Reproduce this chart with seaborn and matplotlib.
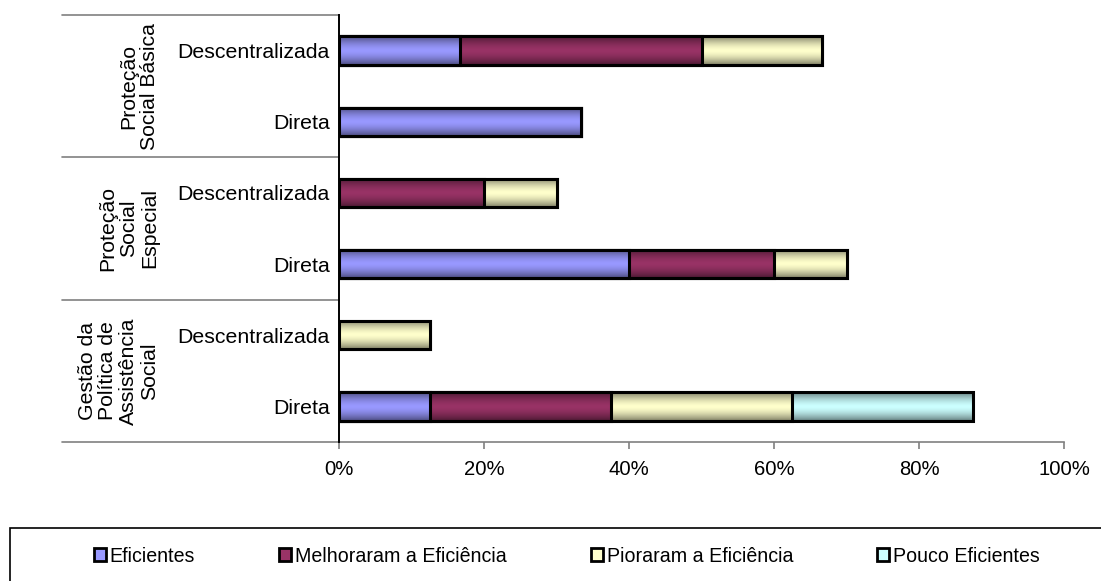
import numpy as np
import pandas as pd
import matplotlib
matplotlib.use("Agg")
import matplotlib.pyplot as plt
import matplotlib.transforms as mtransforms
from matplotlib.patches import Patch, Rectangle
from matplotlib.colors import to_rgb
import seaborn as sns

# Category structure: three areas, each with two execution modes
groups = ["Proteção\nSocial Básica",
          "Proteção\nSocial\nEspecial",
          "Gestão da\nPolítica de\nAssistência\nSocial"]
modes = ["Descentralizada", "Direta"]

series = ["Eficientes", "Melhoraram a Eficiência",
          "Pioraram a Eficiência", "Pouco Eficientes"]
colors = ["#9999FF", "#993366", "#FFFFCC", "#CCFFFF"]

# Share of actions (%) per row, rows ordered top to bottom
eficientes = [16.67, 33.33, 0.0, 40.0, 0.0, 12.5]
melhoraram = [33.33, 0.0, 20.0, 20.0, 0.0, 25.0]
pioraram = [16.67, 0.0, 10.0, 10.0, 12.5, 25.0]
pouco = [0.0, 0.0, 0.0, 0.0, 0.0, 25.0]

x_ticks = [0, 20, 40, 60, 80, 100]
x_tick_labels = ["0%", "20%", "40%", "60%", "80%", "100%"]

sns.set_theme(style="white")
plt.rcParams["font.family"] = ["Liberation Sans", "DejaVu Sans"]
plt.rcParams["text.color"] = "black"

W, H = 1101, 581
fig = plt.figure(figsize=(W / 100, H / 100), dpi=100)
ax = fig.add_axes([339 / W, 1 - 442 / H, 725 / W, 427 / H])

row_keys = [f"{g}|{m}" for g in groups for m in modes]
row_labels = [m for g in groups for m in modes]

values = np.array([eficientes, melhoraram, pioraram, pouco])
cum = np.cumsum(values, axis=0)


def shade(rgb, n=64):
    t = np.linspace(0, 1, n)
    f = 1 - 0.5 * np.abs(2 * t - 1) ** 1.6
    return np.clip(np.array(rgb)[None, :] * f[:, None], 0, 1)


# Stacked bars: draw cumulative totals from the widest layer down
for k in range(len(series) - 1, -1, -1):
    df = pd.DataFrame({"row": row_keys, "total": cum[k]})
    n0 = len(ax.patches)
    sns.barplot(data=df, x="total", y="row", order=row_keys, orient="h",
                color=colors[k], saturation=1, width=0.4,
                edgecolor="black", linewidth=2.2, ax=ax)
    z = 2 + (len(series) - 1 - k)
    grad = shade(to_rgb(colors[k]))
    for p in ax.patches[n0:]:
        x0, y0, w, h = p.get_x(), p.get_y(), p.get_width(), p.get_height()
        if w <= 0:
            p.set_visible(False)
            continue
        ax.imshow(grad[:, None, :], extent=(x0, x0 + w, y0 + h, y0),
                  aspect="auto", interpolation="bilinear", zorder=z)
        p.set_facecolor("none")
        p.set_zorder(z + 0.5)

ax.set_xlim(0, 100)
ax.set_ylim(5.5, -0.5)
ax.set_xlabel("")
ax.set_ylabel("")

ax.set_xticks(x_ticks)
ax.set_xticklabels(x_tick_labels, fontsize=14.6, color="black")
ax.set_yticks(range(len(row_keys)))
ax.set_yticklabels(row_labels, fontsize=15.3, color="black")
ax.tick_params(axis="x", bottom=True, direction="out", length=5,
               width=1.2, color="#808080", pad=8)
ax.tick_params(axis="y", left=False, length=0, pad=6.5)

for side in ("top", "right"):
    ax.spines[side].set_visible(False)
ax.spines["left"].set_color("black")
ax.spines["left"].set_linewidth(1.4)
ax.spines["left"].set_zorder(10)
ax.spines["bottom"].set_color("#808080")
ax.spines["bottom"].set_linewidth(1.2)

# Multi-level category axis: separators and group labels on the left
trans = mtransforms.blended_transform_factory(ax.transAxes, ax.transData)
x_left = (62 - 339) / 725
for yb in (-0.5, 1.5, 3.5, 5.5):
    ax.plot([x_left, 0], [yb, yb], transform=trans, color="#808080",
            lw=1.2, clip_on=False, zorder=1)

x_grp = (159 - 339) / 725
for i, g in enumerate(groups):
    ax.text(x_grp, 2 * i + 0.5, g, transform=trans, rotation=90,
            ha="right", va="center", multialignment="center",
            fontsize=15.3, linespacing=1.12, color="black")

# Legend in a framed strip along the bottom
handles = [Patch(facecolor=c, edgecolor="black", linewidth=2.0) for c in colors]
leg = fig.legend(handles, series, loc="center",
                 bbox_to_anchor=(567 / W, 1 - 556 / H), ncol=4, frameon=False,
                 fontsize=14.1, handlelength=0.6, handleheight=0.6,
                 handletextpad=0.2, columnspacing=4.3, borderaxespad=0)
for t in leg.get_texts():
    t.set_color("black")
fig.patches.append(Rectangle((10 / W, -0.05), 1.2, (H - 528) / H + 0.05,
                             transform=fig.transFigure, fill=False,
                             edgecolor="black", linewidth=1.2))

fig.savefig("out.png", dpi=100)
